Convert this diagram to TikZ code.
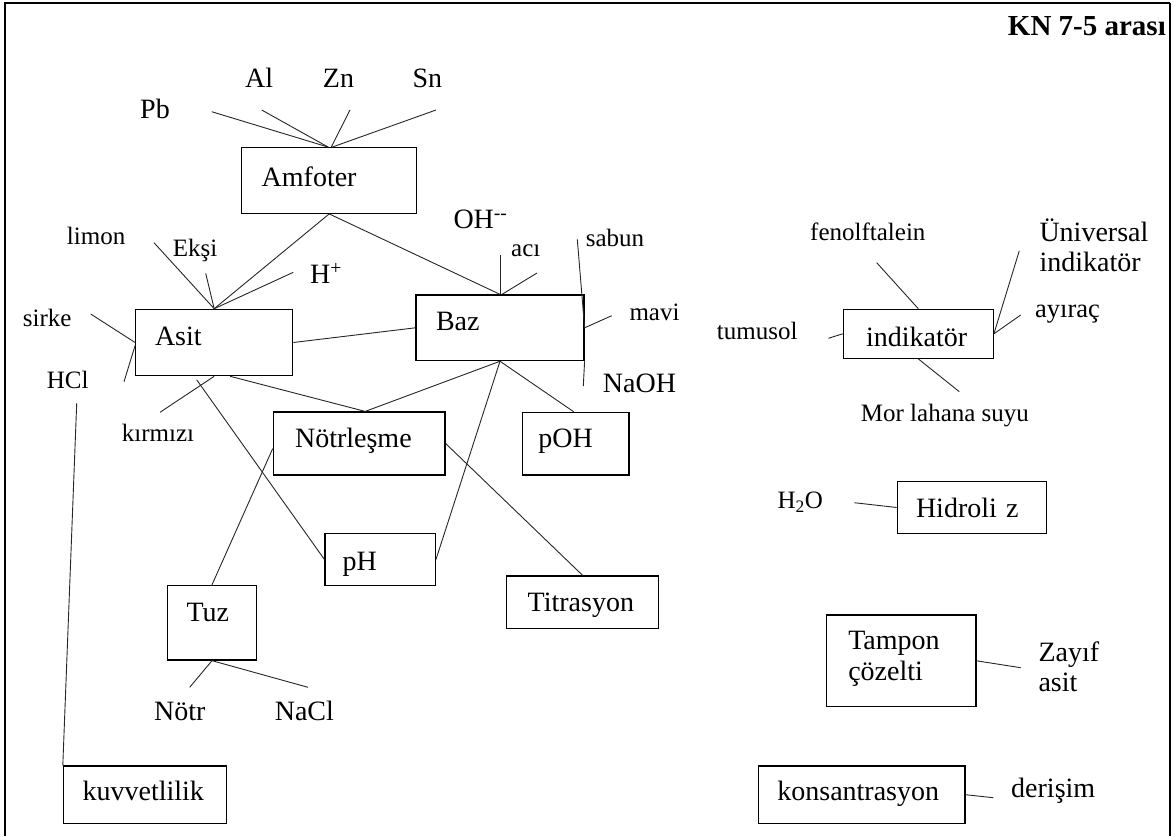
\documentclass[tikz,border=0pt]{standalone}
\usepackage{fontspec}
\setmainfont{Liberation Serif}
\newcommand\mainsz{\fontsize{28}{30}\selectfont}
\newcommand\smallsz{\fontsize{25}{28}\selectfont}
\begin{document}
\hyphenpenalty=10000 \exhyphenpenalty=10000
\begin{tikzpicture}[x=1pt,y=-1pt,
  box/.style={draw, line width=1.2pt, rectangle, inner ysep=0pt, align=left, font=\mainsz},
  lbl/.style={anchor=base west, inner sep=0pt, font=\mainsz},
  sml/.style={anchor=base west, inner sep=0pt, font=\smallsz},
  conn/.style={line width=0.9pt, draw=black!85}]

\useasboundingbox (0,0) rectangle (1175,836);

% page frame (open at the bottom)
\draw[line width=2pt] (4.5,836) -- (4.5,2.5) -- (1170,2.5);
\draw[line width=2.8pt] (1170,2.5) -- (1170,836);

\node[anchor=base east, inner sep=0pt, font=\fontsize{29}{32}\selectfont\bfseries] (title) at (1166,35) {KN 7-5 arası};

% boxes
\node[box, minimum width=175pt, minimum height=65.6pt, inner xsep=20pt, text width=135pt, text height=18pt, text depth=6pt] (amf) at (329.2,180.5) {Amfoter};
\node[box, minimum width=157pt, minimum height=66.4pt, inner xsep=19.3pt, text width=118.4pt, text height=11pt, text depth=6pt] (asit) at (214.2,342.5) {Asit};
\node[box, minimum width=168pt, minimum height=65.7pt, inner xsep=20pt, text width=128pt, text height=11pt, text depth=6pt] (baz) at (500,327.8) {Baz};
\node[box, minimum width=171.7pt, minimum height=63pt, inner xsep=21.7pt, text width=128.3pt, text height=13pt, text depth=6pt] (notr) at (359.2,443.5) {Nötrleşme};
\node[box, minimum width=106.7pt, minimum height=62.7pt, inner xsep=16pt, text width=74.7pt, text height=14pt, text depth=6pt] (poh) at (575.7,443.7) {pOH};
\node[box, minimum width=110.3pt, minimum height=52.4pt, inner xsep=17.6pt, text width=75.1pt, text height=27pt, text depth=6pt] (ph) at (380.2,559.5) {pH};
\node[box, minimum width=151.8pt, minimum height=52.7pt, inner xsep=21pt, text width=109.8pt, text height=24pt, text depth=6pt] (titr) at (582.6,602.3) {Titrasyon};
\node[box, minimum width=89.3pt, minimum height=74.7pt, inner xsep=19.2pt, text width=50.9pt, text height=3pt, text depth=6pt] (tuz) at (212,622.7) {Tuz};
\node[box, minimum width=163.4pt, minimum height=57.3pt, inner xsep=19.2pt, text width=125pt, text height=18pt, text depth=6pt] (kuv) at (145.1,794.7) {kuvvetlilik};
\node[box, minimum width=150pt, minimum height=49pt, inner xsep=22.7pt, text width=104.6pt, text height=31pt, text depth=6pt] (ind) at (918.3,333.8) {indikatör};
\node[box, minimum width=149.4pt, minimum height=51.6pt, inner xsep=18.7pt, text width=112pt, text height=26pt, text depth=6pt] (hid) at (972,507.5) {Hidroli z};
\node[box, minimum width=149.3pt, minimum height=91.7pt, inner xsep=21.6pt, text width=106.1pt, text height=14.7pt, text depth=36.7pt, font=\fontsize{28}{30.7}\selectfont] (tam) at (901.3,660.8) {Tampon\\çözelti};
\node[box, minimum width=206.7pt, minimum height=57.3pt, inner xsep=19pt, text width=168.7pt, text height=17.6pt, text depth=6pt] (kon) at (861.7,794.7) {konsantrasyon};

% free-standing labels
\node[lbl] (pb) at (140,118) {Pb};
\node[lbl] (al) at (245,87) {Al};
\node[lbl] (zn) at (322.7,87) {Zn};
\node[lbl] (sn) at (412.3,87) {Sn};
\node[sml] (limon) at (66.7,244.3) {limon};
\node[sml] (eksi) at (172.7,256.5) {Ekşi};
\node[lbl] (hplus) at (310,283.3) {H\textsuperscript{+}};
\node[sml] (sirke) at (22.7,326) {sirke};
\node[sml] (hcl) at (46.7,388.3) {HCl};
\node[sml] (kirmizi) at (121.7,441.7) {kırmızı};
\node[lbl] (oh) at (453.3,228.3) {OH\textsuperscript{-{}-}};
\node[sml] (aci) at (511,256.7) {acı};
\node[sml] (sabun) at (585.7,246) {sabun};
\node[sml] (mavi) at (629.3,320) {mavi};
\node[lbl] (naoh) at (602.7,392.7) {NaOH};
\node[lbl] (notrl) at (154,720) {Nötr};
\node[lbl] (nacl) at (274.6,720) {NaCl};
\node[sml] (fenol) at (810,240) {fenolftalein};
% multi-line labels sit on the baseline of their last line
\node[lbl, align=left] (univ) at (1039.3,271.7) {Üniversal\\indikatör};
\node[anchor=base west, inner sep=0pt, font=\fontsize{26.5}{28}\selectfont] (ayirac) at (1035,317.3) {ayıraç};
\node[sml] (turn) at (716.7,339.3) {tumusol};
\node[sml] (mor) at (860.7,421.7) {Mor lahana suyu};
\node[sml] (h2o) at (777.3,508.3) {H\textsubscript{2}O};
\node[lbl, align=left] (zayif) at (1038.3,691.7) {Zayıf\\asit};
\node[lbl] (deris) at (1011,797.3) {derişim};

% loose ends of the connectors
\coordinate (cpb) at (211.7,111.7);
\coordinate (cal) at (261.7,110);
\coordinate (czn) at (350,110);
\coordinate (csn) at (436,110);
\coordinate (climon) at (154,242.7);
\coordinate (ceksi) at (205.7,273.3);
\coordinate (chp) at (293.3,272.3);
\coordinate (csirke) at (90.7,314);
\coordinate (chcl) at (124,381.7);
\coordinate (ckirmizi) at (160,412.3);
\coordinate (caci) at (500,255);
\coordinate (coh) at (537,273);
\coordinate (csabun) at (577.3,239.3);
\coordinate (cmavi) at (611.7,315.7);
\coordinate (cnaoh) at (583.3,386);
\coordinate (cnotr) at (189.7,687.3);
\coordinate (cnacl) at (308,687.3);
\coordinate (ckuv) at (76.7,403.3);
\coordinate (cfenol) at (876.7,262.7);
\coordinate (cuniv) at (1019.3,250.7);
\coordinate (cayirac) at (1020.7,315);
\coordinate (cturn) at (828.3,338.3);
\coordinate (cmor) at (959.3,391.7);
\coordinate (ch2o) at (854.3,502.7);
\coordinate (czayif) at (1020.7,667.7);
\coordinate (cderis) at (993.3,797.7);

% connectors
\draw[conn] (cpb) -- ([xshift=-1pt]amf.north);
\draw[conn] (cal) -- ([xshift=-1pt]amf.north);
\draw[conn] (czn) -- ([xshift=2pt]amf.north);
\draw[conn] (csn) -- ([xshift=3pt]amf.north);
\draw[conn] (amf.south) -- (asit.north);
\draw[conn] (amf.south) -- (baz.north);
\draw[conn] (climon) -- (asit.north);
\draw[conn] (ceksi) -- (asit.north);
\draw[conn] (chp) -- (asit.north);
\draw[conn] (csirke) -- (asit.west);
\draw[conn] (chcl) -- ([yshift=-3pt]asit.west);
\draw[conn] (asit.east) -- (baz.west);
\draw[conn] (asit.south) -- (ckirmizi);
\draw[conn] ([xshift=-17.5pt,yshift=-3.5pt]asit.south) -- (ph.west);
\draw[conn] ([xshift=16pt]asit.south) -- ([xshift=6pt]notr.north);
\draw[conn] (baz.south) -- ([xshift=6pt]notr.north);
\draw[conn] (baz.south) -- ([xshift=-2pt]poh.north);
\draw[conn] (baz.south) -- (ph.east);
\draw[conn] (caci) -- (baz.north);
\draw[conn] (coh) -- ([xshift=2pt]baz.north);
\draw[conn] (csabun) -- (baz.east);
\draw[conn] (baz.east) -- (cmavi);
\draw[conn] (baz.south east) -- (cnaoh);
\draw[conn] ([yshift=-5pt]notr.west) -- (tuz.north);
\draw[conn] (notr.east) -- (titr.north);
\draw[conn] (tuz.south) -- (cnotr);
\draw[conn] (tuz.south) -- (cnacl);
\draw[conn] (ckuv) -- (kuv.north west);
\draw[conn] (cfenol) -- (ind.north);
\draw[conn] (cuniv) -- (ind.east);
\draw[conn] (cayirac) -- (ind.east);
\draw[conn] (cturn) -- (ind.west);
\draw[conn] (ind.south) -- (cmor);
\draw[conn] (ch2o) -- (hid.west);
\draw[conn] (tam.east) -- (czayif);
\draw[conn] (kon.east) -- (cderis);

\end{tikzpicture}
\end{document}
